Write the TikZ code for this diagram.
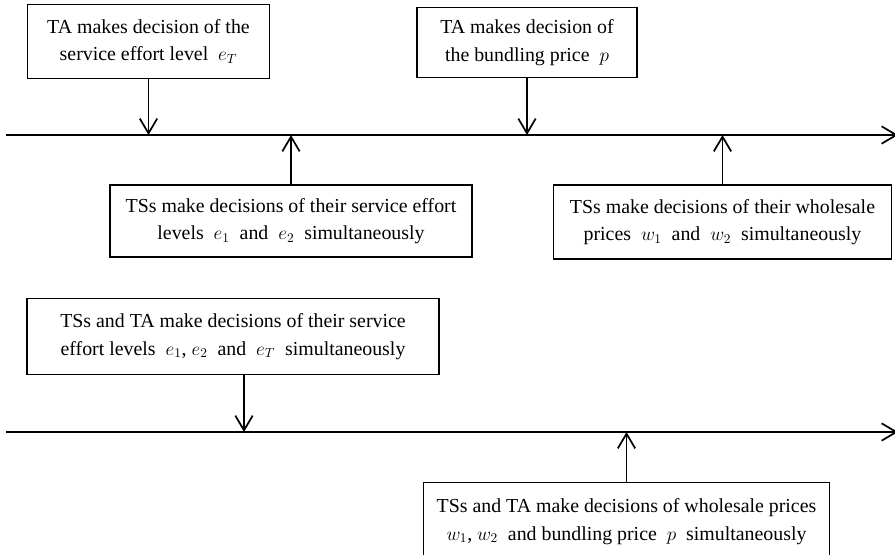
\documentclass[tikz,border=0pt]{standalone}
\usepackage{fontspec}
\setmainfont{Liberation Serif}
\usetikzlibrary{arrows.meta}

\tikzset{
  decbox/.style={draw, line width=0.9pt, align=center, inner sep=0pt,
    font=\fontsize{14.9}{20.5}\selectfont},
  timeline/.style={line width=1.3pt, -{Straight Barb[length=11pt,width=13pt]}},
  eventarrow/.style={line width=1.3pt, -{Straight Barb[length=11pt,width=13pt]}}
}

\begin{document}
\begin{tikzpicture}[x=0.75pt,y=-0.75pt]
          \useasboundingbox (0,0) rectangle (895,554);
          \def\lineone{135}
          \def\linetwo{432}
          % the two time lines
          \path[coordinate] (6,\lineone) coordinate (T1s)
            (898,\lineone) coordinate (T1e)
            (6,\linetwo) coordinate (T2s)
            (898,\linetwo) coordinate (T2e);
          \draw[timeline] (T1s) -- (T1e);
          \draw[timeline] (T2s) -- (T2e);
          % first time line
          \node[decbox, minimum width=182pt, minimum height=55pt] (taeff) at (148.5,41.5)
            {TA makes decision of the\\ service effort level\ \ $e_T$};
          \node[decbox, minimum width=165pt, minimum height=53pt] (taprice) at (527,42.5)
            {TA makes decision of\\ the bundling price\ \ $p$};
          \node[decbox, minimum width=271.5pt, minimum height=54pt] (tseff) at (291,221)
            {TSs make decisions of their service effort\\ levels\ \ $e_1$\ \ and\ \ $e_2$\ \ simultaneously};
          \node[decbox, minimum width=254pt, minimum height=55.5pt] (tsprice) at (722.5,222)
            {TSs make decisions of their wholesale\\ prices\ \ $w_1$\ \ and\ \ $w_2$\ \ simultaneously};
          \draw[eventarrow] (taeff.south) -- (taeff.south |- T1s);
          \draw[eventarrow] (taprice.south) -- (taprice.south |- T1s);
          \draw[eventarrow] (tseff.north) -- (tseff.north |- T1s);
          \draw[eventarrow] (tsprice.north) -- (tsprice.north |- T1s);
          % second time line
          \node[decbox, minimum width=309pt, minimum height=57pt] (alleff) at (233,336.5)
            {TSs and TA make decisions of their service\\ effort levels\ \ $e_1$,\ $e_2$\ \ and\ \ $e_T$\ \ simultaneously};
          \node[decbox, minimum width=305pt, minimum height=58pt] (allprice) at (626.5,521.5)
            {TSs and TA make decisions of wholesale prices\\ $w_1$,\ $w_2$\ \ and bundling price\ \ $p$\ \ simultaneously};
          \draw[eventarrow] ([xshift=8.25pt]alleff.south) -- ([xshift=8.25pt]alleff.south |- T2s);
          \draw[eventarrow] (allprice.north) -- (allprice.north |- T2s);
        \end{tikzpicture}
\end{document}
